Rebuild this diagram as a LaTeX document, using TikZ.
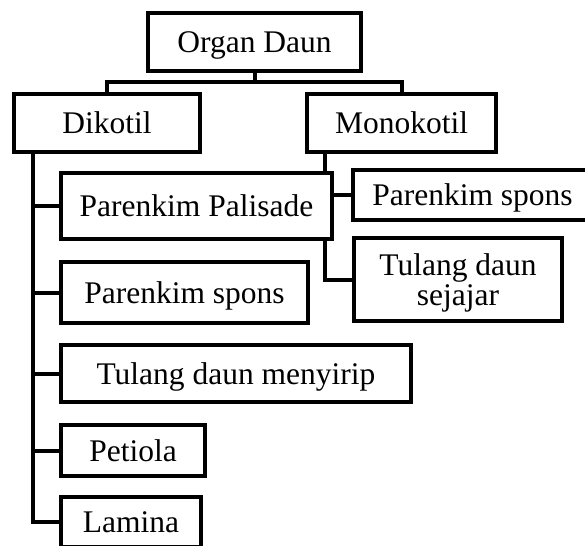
\documentclass[tikz,border=0pt]{standalone}
\usepackage{fontspec}
\setmainfont{Liberation Serif}
\usetikzlibrary{backgrounds,calc}
\newcommand\topstrut{\rule{0pt}{28pt}}
\newcommand\botstrut{\rule[-6.8pt]{0pt}{6.8pt}}
\newcommand\fullstrut{\rule[-6.8pt]{0pt}{34.8pt}}
\begin{document}
\begin{tikzpicture}[x=1pt,y=-1pt,
  box/.style={draw, line width=4pt, fill=white, inner sep=0pt,
    font=\fontsize{31.5}{30}\selectfont, align=center},
  conn/.style={line width=4pt}]
\useasboundingbox (0,0) rectangle (585,545);
\node[box, minimum width=213pt, minimum height=58pt] (organ) at (254.5,42) {\fullstrut Organ Daun};
\node[box, minimum width=186pt, minimum height=58pt] (dik) at (107,123) {\fullstrut Dikotil};
\node[box, minimum width=189pt, minimum height=58pt] (mono) at (401.5,123) {\fullstrut Monokotil};
\node[box, minimum width=271pt, minimum height=66pt] (pal) at (196.5,206) {\fullstrut Parenkim Palisade};
\node[box, minimum width=239pt, minimum height=49pt] (rsp) at (472.5,195) {\fullstrut Parenkim spons};
\node[box, minimum width=208pt, minimum height=83pt] (sej) at (458,279.5) {\topstrut Tulang daun\\ sejajar\botstrut};
\node[box, minimum width=247pt, minimum height=61pt] (lsp) at (184.5,292.5) {\fullstrut Parenkim spons};
\node[box, minimum width=350pt, minimum height=57pt] (men) at (236,373.5) {\fullstrut Tulang daun menyirip};
\node[box, minimum width=144pt, minimum height=51pt] (pet) at (133,450.5) {\fullstrut Petiola};
\node[box, minimum width=140pt, minimum height=50pt] (lam) at (131,522) {\fullstrut Lamina};
\coordinate (bar) at ($(organ.south)!0.5!(dik.north)$);
\coordinate (dv) at (33,152);
\coordinate (mv) at (325,152);
\begin{scope}[on background layer]
\draw[conn] (organ.south) -- (organ.south |- bar);
\draw[conn] (dik.north) -- (dik.north |- bar) -| (mono.north);
\draw[conn] (dv) |- (lam.west);
\foreach \n in {pal,lsp,men,pet} \draw[conn] (dv |- \n.west) -- (\n.west);
\draw[conn] (mv) |- (sej.west);
\draw[conn] (mv |- rsp.west) -- (rsp.west);
\end{scope}
\end{tikzpicture}
\end{document}
